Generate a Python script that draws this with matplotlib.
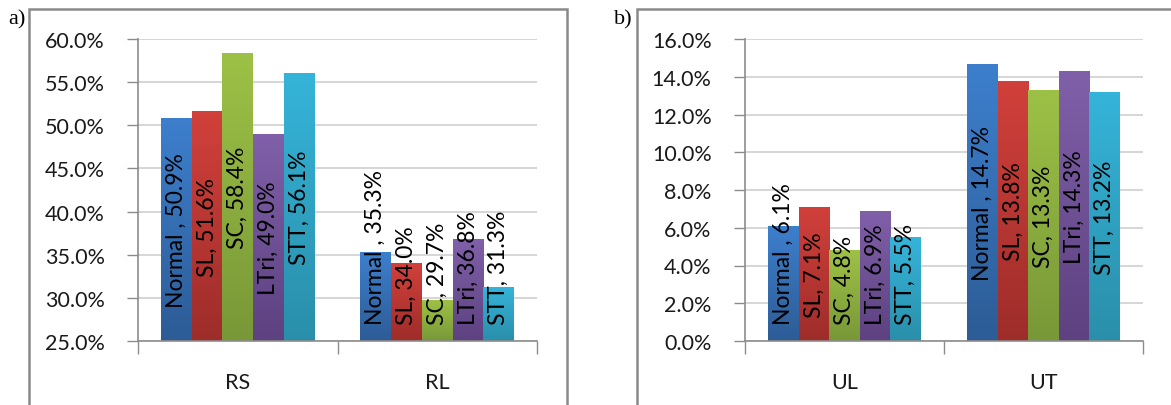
import numpy as np
import matplotlib
matplotlib.use("Agg")
import matplotlib.pyplot as plt
from matplotlib.colors import to_rgb
from matplotlib.patches import Rectangle

# ---- data -------------------------------------------------------------
series = ["Normal", "SL", "SC", "LTri", "STT"]
label_names = ["Normal ", "SL", "SC", "LTri", "STT"]

cats_a = ["RS", "RL"]
vals_a = {
    "RS": [50.9, 51.6, 58.4, 49.0, 56.1],
    "RL": [35.3, 34.0, 29.7, 36.8, 31.3],
}
yticks_a = [25, 30, 35, 40, 45, 50, 55, 60]

cats_b = ["UL", "UT"]
vals_b = {
    "UL": [6.1, 7.1, 4.8, 6.9, 5.5],
    "UT": [14.7, 13.8, 13.3, 14.3, 13.2],
}
yticks_b = [0, 2, 4, 6, 8, 10, 12, 14, 16]

# top / bottom gradient colours per series
grad_top = ["#3D7FCD", "#D1403B", "#9DC146", "#8060A9", "#35B4D9"]
grad_bot = ["#2D5C96", "#9E2D2A", "#789838", "#5D4180", "#2A8FAA"]

FONT = "Lato"
plt.rcParams["font.family"] = [FONT, "DejaVu Sans"]

W, H, DPI = 1171, 406, 100
fig = plt.figure(figsize=(W / DPI, H / DPI), dpi=DPI)


def frac(x0, x1, y_top, y_bot):
    return [x0 / W, 1 - y_bot / H, (x1 - x0) / W, (y_bot - y_top) / H]


ax_a = fig.add_axes(frac(138, 537, 40, 342))
ax_b = fig.add_axes(frac(745, 1143, 40, 342))

GRID = "#CFCFCF"
AXIS = "#8C8C8C"
BAR_W = 0.154
TEXT = "#1A1A1A"


def gradient_bar(ax, patch, top, bot):
    x0, y0 = patch.get_x(), patch.get_y()
    w, h = patch.get_width(), patch.get_height()
    t = np.array(to_rgb(top))
    b = np.array(to_rgb(bot))
    n = 64
    f = np.linspace(0, 1, n)[:, None]
    img = (t * (1 - f) + b * f)[:, None, :]
    im = ax.imshow(img, extent=[x0, x0 + w, y0, y0 + h], origin="upper",
                   aspect="auto", zorder=2, interpolation="bilinear")
    im.set_clip_path(patch)


def draw_panel(ax, cats, vals, yticks, floor):
    x = np.arange(len(cats))
    labels = []
    for ci, cat in enumerate(cats):
        for si in range(len(series)):
            v = vals[cat][si]
            xc = x[ci] + (si - 2) * BAR_W
            bar = ax.bar(xc, v - floor, bottom=floor, width=BAR_W,
                         color="none", edgecolor="none", zorder=2)[0]
            gradient_bar(ax, bar, grad_top[si], grad_bot[si])
            txt = ax.annotate(f"{label_names[si]}, {v:.1f}%",
                              xy=(xc, (v + floor) / 2), xytext=(0, 0),
                              textcoords="offset points", rotation=90,
                              ha="center", va="center", fontsize=16.5,
                              color="black", zorder=5)
            labels.append(txt)

    ax.set_xlim(-0.5, len(cats) - 0.5)
    ax.set_ylim(yticks[0], yticks[-1])
    ax.set_yticks(yticks)
    ax.set_yticklabels([f"{t:.1f}%" for t in yticks])
    ax.set_xticks(x)
    ax.set_xticklabels(cats)
    ax.set_xticks(np.arange(len(cats) + 1) - 0.5, minor=True)
    ax.tick_params(axis="x", which="major", length=0, pad=22,
                   labelsize=15.5, labelcolor=TEXT)
    ax.tick_params(axis="x", which="minor", length=9, width=1, color=AXIS,
                   direction="out")
    ax.tick_params(axis="y", length=8, width=1, color=AXIS, pad=16,
                   labelsize=15.5, labelcolor=TEXT)
    ax.grid(axis="y", color=GRID, linewidth=1.2, zorder=0)
    ax.set_axisbelow(True)
    for s in ("top", "right"):
        ax.spines[s].set_visible(False)
    for s in ("left", "bottom"):
        ax.spines[s].set_color(AXIS)
        ax.spines[s].set_linewidth(1.2)
    ax.patch.set_alpha(0)
    return labels


labels_a = draw_panel(ax_a, cats_a, vals_a, yticks_a, yticks_a[0])
labels_b = draw_panel(ax_b, cats_b, vals_b, yticks_b, yticks_b[0])

# keep long value labels from running under the category axis
fig.canvas.draw()
renderer = fig.canvas.get_renderer()
for ax, labels in ((ax_a, labels_a), (ax_b, labels_b)):
    ax_bottom = ax.get_window_extent(renderer).y0
    for t in labels:
        bb = t.get_window_extent(renderer)
        need = ax_bottom + 17 - bb.y0
        if need > 0:
            t.xyann = (0, need * 72 / DPI)

# panel frames and letters
for x0, x1 in ((29, 567), (637, 1200)):
    fig.patches.append(Rectangle((x0 / W, -0.1), (x1 - x0) / W, 1.1 - 10 / H,
                                 transform=fig.transFigure, fill=False,
                                 edgecolor="#8A8A8A", linewidth=1.8))
fig.text(8 / W, 1 - 20 / H, "a)", family="Liberation Serif", fontsize=16,
         va="center", ha="left")
fig.text(614 / W, 1 - 20 / H, "b)", family="Liberation Serif", fontsize=16,
         va="center", ha="left")

fig.savefig("out.png", dpi=DPI)
